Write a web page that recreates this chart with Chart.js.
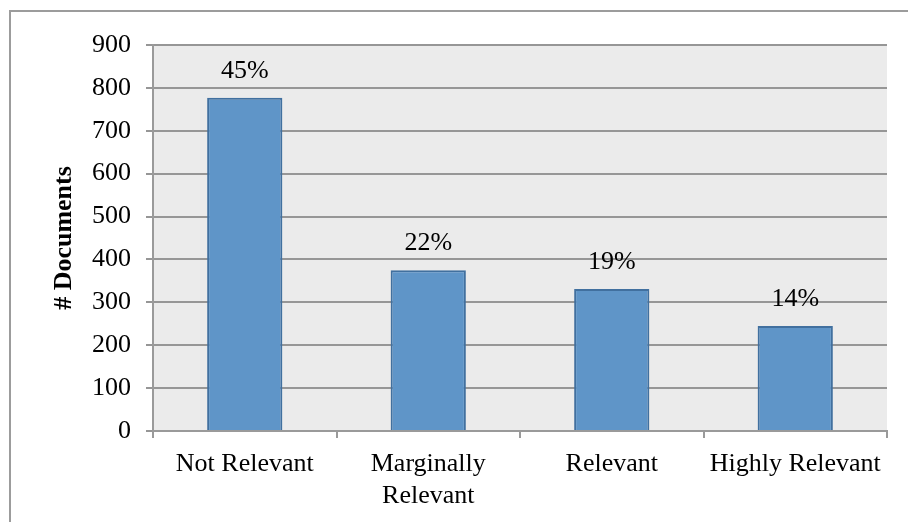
<!DOCTYPE html>
<html>
<head>
<meta charset="utf-8">
<title># Documents by relevance</title>
<script src="https://cdn.jsdelivr.net/npm/chart.js@4/dist/chart.umd.min.js"></script>
<style>
  html, body { margin: 0; padding: 0; background: #ffffff; overflow: hidden; }
  #wrap { position: relative; width: 908px; height: 522px; }
</style>
</head>
<body>
<div id="wrap"><canvas id="chart" width="908" height="522"></canvas></div>
<script>
// Relevance categories and document counts per category
const categories = ['Not Relevant', ['Marginally', 'Relevant'], 'Relevant', 'Highly Relevant'];
const documentCounts = [777, 375, 331, 245];
const yTicks = { min: 0, max: 900, step: 100 };

const FONT = 'Liberation Serif, Times New Roman, serif';
const total = documentCounts.reduce((a, b) => a + b, 0);

// Grey plot background plus the outer frame around the whole chart
const framePlugin = {
  id: 'frame',
  beforeDraw(chart) {
    const { ctx, chartArea: a } = chart;
    ctx.save();
    ctx.fillStyle = '#ebebeb';
    ctx.fillRect(a.left, a.top, a.right - a.left, a.bottom - a.top);
    ctx.strokeStyle = '#9c9c9c';
    ctx.lineWidth = 2;
    ctx.strokeRect(10, 11, 2000, 2000);
    ctx.restore();
  }
};

// Share of all documents written above each bar
const shareLabels = {
  id: 'shareLabels',
  afterDatasetsDraw(chart) {
    const { ctx } = chart;
    const meta = chart.getDatasetMeta(0);
    ctx.save();
    ctx.font = '26px ' + FONT;
    ctx.fillStyle = '#000000';
    ctx.textAlign = 'center';
    ctx.textBaseline = 'alphabetic';
    meta.data.forEach((bar, i) => {
      const pct = Math.round(documentCounts[i] / total * 100) + '%';
      ctx.fillText(pct, bar.x, bar.y - 20);
    });
    ctx.restore();
  }
};

new Chart(document.getElementById('chart'), {
  type: 'bar',
  data: {
    labels: categories,
    datasets: [{
      data: documentCounts,
      backgroundColor: '#5f95c8',
      borderColor: '#41709f',
      borderWidth: 2,
      borderSkipped: 'bottom',
      barPercentage: 0.41,
      categoryPercentage: 1.0
    }]
  },
  options: {
    responsive: false,
    animation: false,
    devicePixelRatio: 1,
    layout: { padding: { left: 0, right: 21, top: 45, bottom: 0 } },
    plugins: {
      legend: { display: false },
      tooltip: { enabled: false }
    },
    scales: {
      x: {
        grid: {
          offset: true,
          drawOnChartArea: false,
          drawTicks: true,
          tickLength: 7,
          color: '#9a9a9a',
          lineWidth: 2
        },
        border: { display: true, color: '#9a9a9a', width: 2 },
        ticks: {
          color: '#000000',
          padding: 11,
          maxRotation: 0,
          autoSkip: false,
          font: { family: FONT, size: 26, lineHeight: 1.2 }
        },
        afterFit(scale) { scale.height = 91; }
      },
      y: {
        min: yTicks.min,
        max: yTicks.max,
        grid: {
          color: '#969696',
          lineWidth: 2,
          drawTicks: true,
          tickLength: 7
        },
        border: { display: true, color: '#9a9a9a', width: 2 },
        ticks: {
          stepSize: yTicks.step,
          color: '#000000',
          padding: 15,
          font: { family: FONT, size: 26 }
        },
        title: {
          display: true,
          text: '# Documents',
          color: '#000000',
          font: { family: FONT, size: 26, weight: 'bold', lineHeight: 1.2 },
          padding: { top: 49, bottom: 0 }
        },
        afterFit(scale) { scale.width = 153; }
      }
    }
  },
  plugins: [framePlugin, shareLabels]
});
</script>
</body>
</html>
